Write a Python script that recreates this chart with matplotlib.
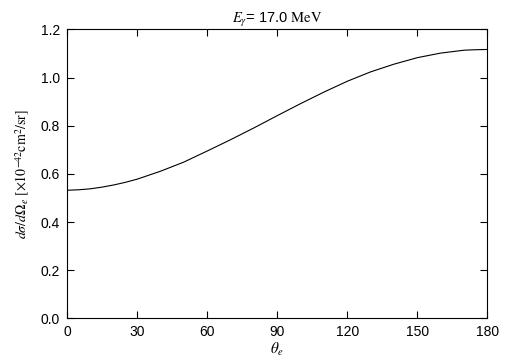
import numpy as np
import matplotlib
matplotlib.use("Agg")
import matplotlib.pyplot as plt

plt.rcParams['font.family'] = ['Liberation Sans', 'DejaVu Sans']
plt.rcParams['mathtext.fontset'] = 'stix'

# angle (deg) and cross section
theta = [0, 5, 10, 15, 20, 25, 30, 40, 50, 60, 70, 80, 90, 100, 110, 120, 130, 140, 150, 160, 170, 175, 180]
xsec = [0.532, 0.534, 0.538, 0.545, 0.554, 0.565, 0.578, 0.611, 0.649, 0.695, 0.742, 0.791, 0.842,
        0.892, 0.940, 0.985, 1.024, 1.056, 1.083, 1.102, 1.114, 1.116, 1.117]

xticks = [0, 30, 60, 90, 120, 150, 180]
yticks = [0.0, 0.2, 0.4, 0.6, 0.8, 1.0, 1.2]

fig = plt.figure(figsize=(5.05, 3.61), dpi=100)
ax = fig.add_axes([0.1327, 0.1183, 0.8326, 0.80])

ax.plot(theta, xsec, color='black', lw=0.8)

ax.set_xlim(0, 180)
ax.set_ylim(0, 1.2)
ax.set_xticks(xticks)
ax.set_yticks(yticks)
ax.set_yticklabels(['%.1f' % v for v in yticks])
ax.tick_params(direction='in', top=True, right=True, length=5, width=0.8,
               labelsize=10, pad=5)
for s in ax.spines.values():
    s.set_linewidth(0.8)

ax.set_xlabel(r'$\theta_e$', fontsize=11, labelpad=1)
ax.set_ylabel(r'$d\sigma/d\Omega_e\ [\times10^{-42}\mathrm{cm}^2/\mathrm{sr}]$', fontsize=10, labelpad=6)
ax.set_title(r'$E_\gamma$= 17.0 $\mathrm{MeV}$', fontsize=10.5, pad=5)

fig.savefig('out.png', dpi=100)
